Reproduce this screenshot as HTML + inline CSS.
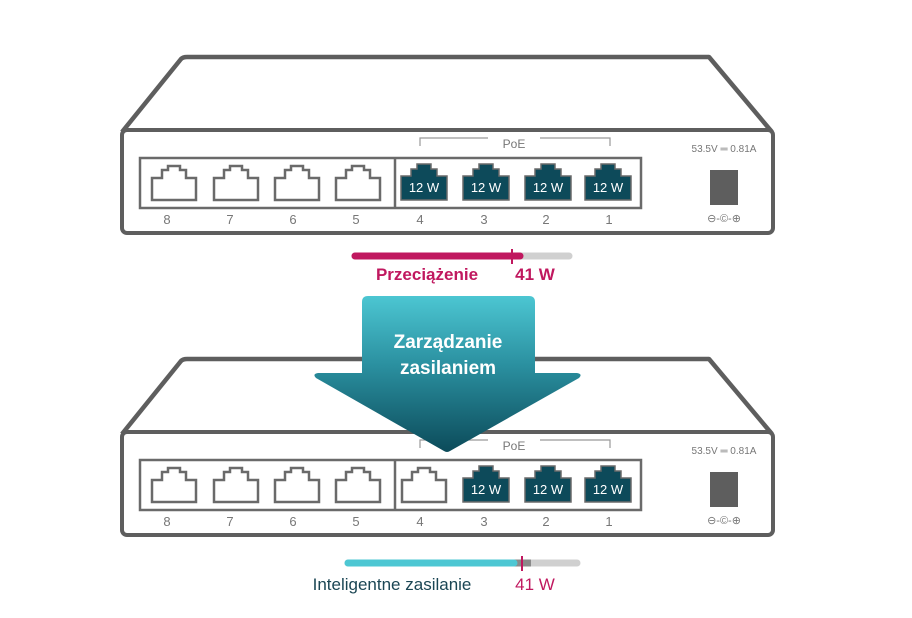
<!DOCTYPE html>
<html><head><meta charset="utf-8"><style>
html,body{margin:0;padding:0;background:#fff;}
svg{display:block;font-family:"Liberation Sans",sans-serif;}
</style></head><body>
<svg width="912" height="618" viewBox="0 0 912 618">
<defs>
<linearGradient id="ag" x1="0" y1="0" x2="0" y2="1">
<stop offset="0" stop-color="#4cc6d2"/>
<stop offset="0.45" stop-color="#2a8f9f"/>
<stop offset="1" stop-color="#0c4b5a"/>
</linearGradient>
<g id="wp"><path d="M2,36 V14 H12 V6 H18 V2 H30 V6 H36 V14 H46 V36 Z" fill="#fff" stroke="#6a6a6a" stroke-width="2.5"/></g>
<g id="dp"><path d="M1,37 V13 H11 V6 H17 V1 H31 V6 H37 V13 H47 V37 Z" fill="#0d4a5a" stroke="#6a6a6a" stroke-width="1.5"/><text x="24" y="29" font-size="13" fill="#fff" text-anchor="middle">12 W</text></g>
<g id="sw">
<path d="M122,132 L181,59 Q183,57 187,57 L709,57 L772,132" fill="#fff" stroke="#5e5e5e" stroke-width="4.5" stroke-linejoin="round"/>
<rect x="122" y="130" width="651" height="103" rx="5" fill="#fff" stroke="#5e5e5e" stroke-width="4"/>
<rect x="140" y="158" width="501" height="50" fill="none" stroke="#6a6a6a" stroke-width="2.5"/>
<line x1="395" y1="158" x2="395" y2="208" stroke="#6a6a6a" stroke-width="2.5"/>
<path d="M420,146 V138 H488 M540,138 H610 V146" fill="none" stroke="#999" stroke-width="1.2"/>
<text x="514" y="148" font-size="12" fill="#777" text-anchor="middle">PoE</text>
<text x="724" y="152" font-size="10" fill="#777" text-anchor="middle">53.5V ═ 0.81A</text>
<rect x="710" y="170" width="28" height="35" fill="#5e5e5e"/>
<text x="724" y="222" font-size="11" fill="#777" text-anchor="middle">⊖-©-⊕</text>
<use href="#wp" x="150" y="164"/><use href="#wp" x="212" y="164"/><use href="#wp" x="273" y="164"/><use href="#wp" x="334" y="164"/>
<g font-size="13" fill="#777" text-anchor="middle">
<text x="167" y="224">8</text><text x="230" y="224">7</text><text x="293" y="224">6</text><text x="356" y="224">5</text>
<text x="420" y="224">4</text><text x="484" y="224">3</text><text x="546" y="224">2</text><text x="609" y="224">1</text>
</g>
</g>
</defs>

<use href="#sw"/>
<use href="#dp" x="400" y="163"/><use href="#dp" x="462" y="163"/><use href="#dp" x="524" y="163"/><use href="#dp" x="584" y="163"/>

<line x1="355" y1="256" x2="569" y2="256" stroke="#d0d0d0" stroke-width="7" stroke-linecap="round"/>
<line x1="355" y1="256" x2="520" y2="256" stroke="#c0185f" stroke-width="7" stroke-linecap="round"/>
<line x1="512" y1="249" x2="512" y2="264" stroke="#c0185f" stroke-width="2"/>
<text x="427" y="280" font-size="17" font-weight="bold" fill="#c0185f" text-anchor="middle">Przeciążenie</text>
<text x="535" y="280" font-size="17" font-weight="bold" fill="#c0185f" text-anchor="middle">41 W</text>

<g transform="translate(0,302)">
<use href="#sw"/>
<use href="#wp" x="400" y="164"/>
<use href="#dp" x="462" y="163"/><use href="#dp" x="524" y="163"/><use href="#dp" x="584" y="163"/>
</g>

<line x1="348" y1="563" x2="577" y2="563" stroke="#d0d0d0" stroke-width="7" stroke-linecap="round"/>
<line x1="514" y1="563" x2="531" y2="563" stroke="#8a8a8a" stroke-width="7"/>
<line x1="348" y1="563" x2="514" y2="563" stroke="#4dc7d3" stroke-width="7" stroke-linecap="round"/>
<line x1="522" y1="556" x2="522" y2="571" stroke="#c0185f" stroke-width="2"/>
<text x="392" y="590" font-size="17" fill="#1b4654" text-anchor="middle">Inteligentne zasilanie</text>
<text x="535" y="590" font-size="17" fill="#c0185f" text-anchor="middle">41 W</text>

<path d="M368,296 H529 Q535,296 535,302 V373 H577 Q583,374 579,378 L450,451 Q447,453 444,451 L316,378 Q312,374 318,373 H362 V302 Q362,296 368,296 Z" fill="url(#ag)"/>
<text x="448" y="348" font-size="19" font-weight="bold" fill="#fff" text-anchor="middle">Zarządzanie</text>
<text x="448" y="374" font-size="19" font-weight="bold" fill="#fff" text-anchor="middle">zasilaniem</text>
</svg>
</body></html>
